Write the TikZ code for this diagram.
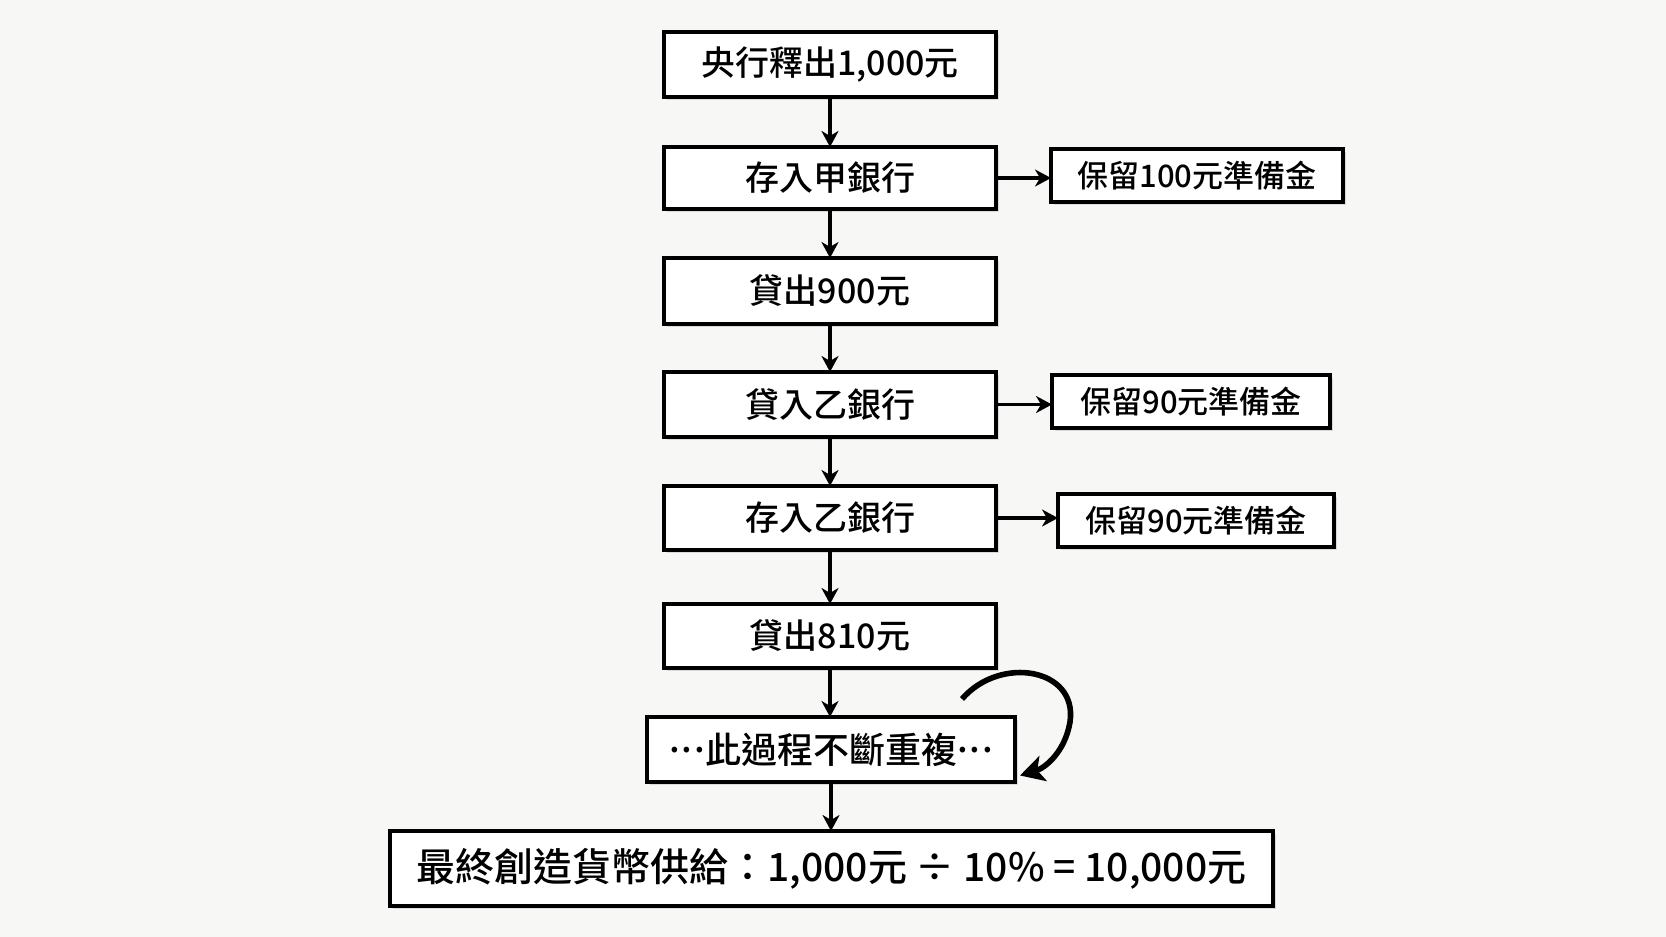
\documentclass[tikz,border=0pt]{standalone}
\usepackage{fontspec}
\setmainfont{Noto Sans CJK TC Medium}
\usetikzlibrary{arrows.meta,shadows}
\definecolor{paper}{HTML}{F7F7F6}
\tikzset{flowbox/.style={draw=black, line width=2.2pt, fill=white,
        drop shadow={shadow xshift=1.5pt, shadow yshift=-1.5pt, fill=black!25},
        inner sep=0, outer sep=0, font=\fontsize{17pt}{19pt}\selectfont},
    sidebox/.style={flowbox, font=\fontsize{15.5pt}{18pt}\selectfont},
    flowarrow/.style={line width=1.6pt, -{Stealth[length=8pt, width=8.5pt, inset=2.5pt]}},
    looparrow/.style={line width=2.8pt, -{Stealth[length=12pt, width=13pt, inset=3pt]}}
}
\newcommand{\middots}{\raisebox{0.3em}{.\kern0.05em.\kern0.05em.}}

\begin{document}
\begin{tikzpicture}[x=0.5pt, y=-0.5pt]
% Background
\fill[paper] (0,0) rectangle (1666,937);
% Main column
\node[flowbox, minimum width=166pt, minimum height=32.5pt] (release) at (830,64.5) {央行釋出1,000元};
\node[flowbox, minimum width=166pt, minimum height=31pt] (depA) at (830,178) {存入甲銀行};
\node[flowbox, minimum width=166pt, minimum height=33pt] (loan900) at (830,291) {貸出900元};
\node[flowbox, minimum width=166pt, minimum height=32.5pt] (loanB) at (830,404.5) {貸入乙銀行};
\node[flowbox, minimum width=166pt, minimum height=32pt] (depB) at (830,518) {存入乙銀行};
\node[flowbox, minimum width=166pt, minimum height=32pt] (loan810) at (830,636) {貸出810元};
\node[flowbox, minimum width=184pt, minimum height=32.5pt, font=\fontsize{18pt}{20pt}\selectfont] (repeat) at (831,749.5) {\middots 此過程不斷重複\middots};
\node[flowbox, minimum width=441.5pt, minimum height=37.5pt, font=\fontsize{19.5pt}{22pt}\selectfont] (total) at (831.5,868.5) {最終創造貨幣供給：1,000元 ÷ 10\% = 10,000元};
% Reserves
\node[sidebox, minimum width=146pt, minimum height=26.5pt] (resA) at (1197,175.5) {保留100元準備金};
\node[sidebox, minimum width=139pt, minimum height=26.5pt] (resB1) at (1191,401.5) {保留90元準備金};
\node[sidebox, minimum width=138pt, minimum height=26.5pt] (resB2) at (1196,520.5) {保留90元準備金};
% Down arrows
\draw[flowarrow] (release.south) -- (depA.north);
\draw[flowarrow] (depA.south) -- (loan900.north);
\draw[flowarrow] (loan900.south) -- (loanB.north);
\draw[flowarrow] (loanB.south) -- (depB.north);
\draw[flowarrow] (depB.south) -- (loan810.north);
\draw[flowarrow] (loan810.south) -- (loan810.south |- repeat.north);
\draw[flowarrow] (repeat.south) -- (repeat.south |- total.north);
% Side arrows
\draw[flowarrow] (depA.east) -- (depA.east -| resA.west);
\draw[flowarrow] (loanB.east) -- (loanB.east -| resB1.west);
\draw[flowarrow] (depB.east) -- (depB.east -| resB2.west);
% Loop
\coordinate (loopstart) at (962,699);
\draw[looparrow] (loopstart) .. controls (1000,655) and (1078,668) .. (1070,722)
    .. controls (1065,752) and (1045,768) .. ([xshift=2.5pt,yshift=-13pt]repeat.east);
\end{tikzpicture}
\end{document}
